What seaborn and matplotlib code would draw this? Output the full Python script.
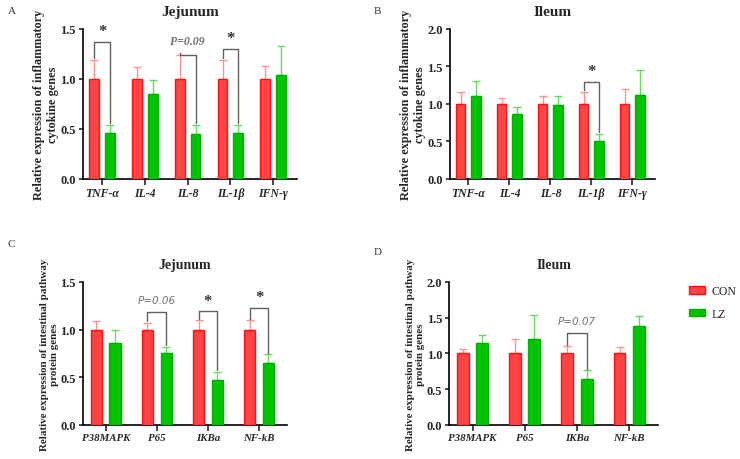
import numpy as np
import pandas as pd
import matplotlib.pyplot as plt
import seaborn as sns
from matplotlib.patches import Patch

sns.set_style("ticks")
plt.rcParams['font.family'] = ['Liberation Serif', 'DejaVu Serif']

# data: CON is the reference (1.0), LZ relative to it; errors are upper error bars
groups = ['CON', 'LZ']

genes_inf = ['TNF-α', 'IL-4', 'IL-8', 'IL-1β', 'IFN-γ']
jej_inf_con = [1.0, 1.0, 1.0, 1.0, 1.0]
jej_inf_con_err = [0.19, 0.12, 0.24, 0.19, 0.13]
jej_inf_lz = [0.46, 0.85, 0.45, 0.46, 1.04]
jej_inf_lz_err = [0.08, 0.14, 0.09, 0.08, 0.29]

ile_inf_con = [1.0, 1.0, 1.0, 1.0, 1.0]
ile_inf_con_err = [0.16, 0.08, 0.10, 0.16, 0.20]
ile_inf_lz = [1.11, 0.86, 0.99, 0.51, 1.12]
ile_inf_lz_err = [0.19, 0.10, 0.11, 0.09, 0.33]

genes_path = ['P38MAPK', 'P65', 'IKBa', 'NF-kB']
jej_path_con = [1.0, 1.0, 1.0, 1.0]
jej_path_con_err = [0.09, 0.07, 0.10, 0.10]
jej_path_lz = [0.86, 0.75, 0.47, 0.65]
jej_path_lz_err = [0.14, 0.07, 0.09, 0.09]

ile_path_con = [1.0, 1.0, 1.0, 1.0]
ile_path_con_err = [0.06, 0.20, 0.10, 0.09]
ile_path_lz = [1.14, 1.20, 0.645, 1.38]
ile_path_lz_err = [0.12, 0.34, 0.12, 0.14]

# significance marks: (gene index, label, bracket level)
jej_inf_sig = [(0, '*', 1.37), (2, 'P=0.09', 1.24), (3, '*', 1.30)]
ile_inf_sig = [(3, '*', 1.29)]
jej_path_sig = [(1, 'P=0.06', 1.18), (2, '*', 1.19), (3, '*', 1.23)]
ile_path_sig = [(2, 'P=0.07', 1.29)]

face = {'CON': '#FF4444', 'LZ': '#00C400'}
edge = {'CON': '#FF1010', 'LZ': '#00B000'}
errc = {'CON': '#FF9090', 'LZ': '#66D866'}

fig = plt.figure(figsize=(7.4, 4.6), dpi=100)
axA = fig.add_axes([0.112, 0.609, 0.289, 0.326])
axB = fig.add_axes([0.608, 0.609, 0.277, 0.326])
axC = fig.add_axes([0.112, 0.074, 0.276, 0.311])
axD = fig.add_axes([0.607, 0.074, 0.282, 0.311])


def panel(ax, genes, con, con_err, lz, lz_err, sig, title, ylabel, ymax, yticks,
          pfont, fs_lab, fs_title, fs_x):
    df = pd.DataFrame({
        'gene': genes * 2,
        'group': ['CON'] * len(genes) + ['LZ'] * len(genes),
        'value': con + lz,
    })
    sns.barplot(data=df, x='gene', y='value', hue='group', hue_order=groups,
                palette=face, saturation=1, width=0.74, gap=0.38, legend=False,
                errorbar=None, ax=ax, zorder=3)
    errs = {'CON': con_err, 'LZ': lz_err}
    centers = {}
    tops = {}
    for cont, g in zip(ax.containers, groups):
        xs = [b.get_x() + b.get_width() / 2 for b in cont]
        hs = [b.get_height() for b in cont]
        for b in cont:
            b.set_edgecolor(edge[g])
            b.set_linewidth(1.0)
        ax.errorbar(xs, hs, yerr=[np.zeros(len(hs)), errs[g]], fmt='none',
                    ecolor=errc[g], elinewidth=1.0, capsize=3, capthick=1.0,
                    zorder=2)
        centers[g] = xs
        tops[g] = [h + e for h, e in zip(hs, errs[g])]
    for i, lab, lvl in sig:
        x1, x2 = centers['CON'][i], centers['LZ'][i]
        y1, y2 = tops['CON'][i] + 0.01 * ymax, tops['LZ'][i] + 0.01 * ymax
        ax.plot([x1, x1, x2, x2], [y1, lvl, lvl, y2], color='#606060', lw=1.0,
                zorder=4)
        if lab == '*':
            ax.text((x1 + x2) / 2, lvl + 0.02 * ymax, '*', ha='center',
                    va='bottom', fontsize=12, fontweight='bold', color='#333333')
        else:
            ax.text((x1 + x2) / 2, lvl + 0.05 * ymax, lab, ha='center',
                    va='bottom', color='#707070', **pfont)
    ax.set_xlim(-0.45, len(genes) - 0.45)
    ax.set_ylim(0, ymax)
    ax.set_yticks(yticks)
    ax.set_yticklabels(['%.1f' % t for t in yticks], fontweight='bold', fontsize=9)
    ax.set_xticks(range(len(genes)))
    ax.set_xticklabels(genes, fontweight='bold', fontstyle='italic', fontsize=fs_x)
    ax.set_xlabel('')
    ax.set_ylabel(ylabel, fontweight='bold', fontsize=fs_lab, labelpad=1)
    ax.set_title(title, fontweight='bold', fontsize=fs_title, pad=10)
    sns.despine(ax=ax)
    for s in ['left', 'bottom']:
        ax.spines[s].set_linewidth(1.2)
        ax.spines[s].set_color('black')
    ax.tick_params(width=1.2, length=3, pad=2)
    ax.tick_params(axis='x', length=4)


lab_inf = 'Relative expression of inflammatory\ncytokine genes'
lab_path = 'Relative expression of intestinal pathway\nprotein genes'
serif_p = dict(fontsize=8.5, fontstyle='italic', fontweight='bold')
sans_p = dict(fontsize=7.5, fontstyle='italic', family=['DejaVu Sans'])

panel(axA, genes_inf, jej_inf_con, jej_inf_con_err, jej_inf_lz, jej_inf_lz_err,
      jej_inf_sig, 'Jejunum', lab_inf, 1.5, [0.0, 0.5, 1.0, 1.5], serif_p,
      8.8, 11, 8.5)
panel(axB, genes_inf, ile_inf_con, ile_inf_con_err, ile_inf_lz, ile_inf_lz_err,
      ile_inf_sig, 'Ileum', lab_inf, 2.0, [0.0, 0.5, 1.0, 1.5, 2.0], serif_p,
      8.8, 11, 8.5)
panel(axC, genes_path, jej_path_con, jej_path_con_err, jej_path_lz, jej_path_lz_err,
      jej_path_sig, 'Jejunum', lab_path, 1.5, [0.0, 0.5, 1.0, 1.5], sans_p,
      7.9, 10, 7.8)
panel(axD, genes_path, ile_path_con, ile_path_con_err, ile_path_lz, ile_path_lz_err,
      ile_path_sig, 'Ileum', lab_path, 2.0, [0.0, 0.5, 1.0, 1.5, 2.0], sans_p,
      7.9, 10, 7.8)

for txt, x, y in [('A', 0.01, 0.975), ('B', 0.505, 0.975),
                  ('C', 0.01, 0.468), ('D', 0.505, 0.45)]:
    fig.text(x, y, txt, fontsize=8, color='#333333', va='center')

handles = [Patch(facecolor=face[g], edgecolor=edge[g], label=g) for g in groups]
fig.legend(handles=handles, loc='center left', bbox_to_anchor=(0.917, 0.34),
           frameon=False, fontsize=8.5, handlelength=1.3, handleheight=0.6,
           handletextpad=0.6, labelspacing=0.9)

fig.savefig('out.png', dpi=100)
